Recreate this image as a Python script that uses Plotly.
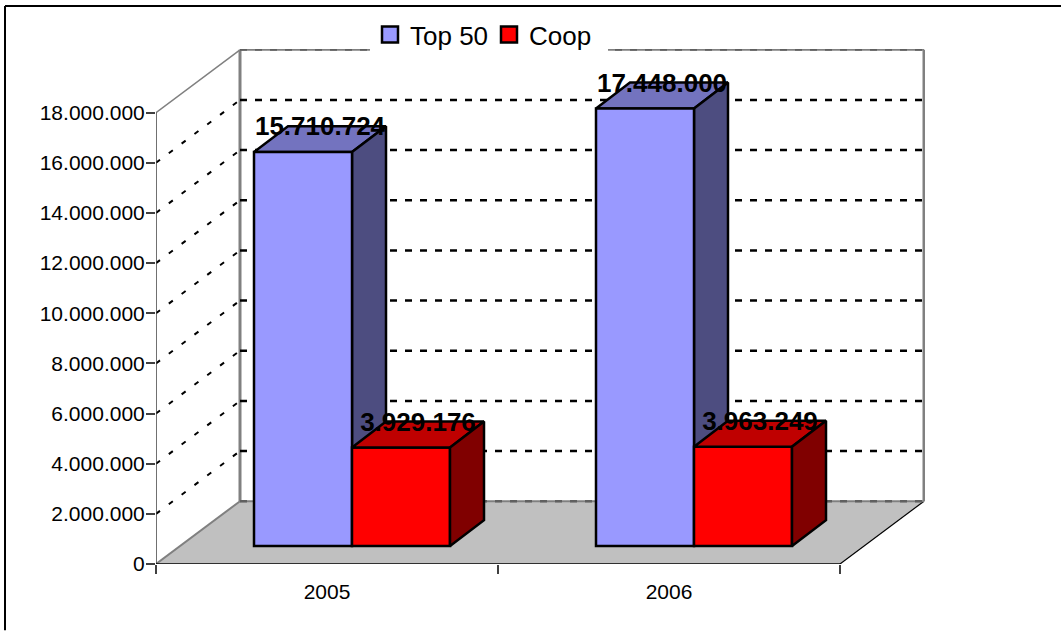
import plotly.graph_objects as go

# ---- data ----
categories = ["2005", "2006"]
top50 = [15710724, 17448000]
coop = [3929176, 3963249]
y_ticks = [0, 2000000, 4000000, 6000000, 8000000, 10000000, 12000000, 14000000, 16000000, 18000000]

# ---- geometry of the oblique projection (axis units) ----
PX_L, PX_R, PX_T, PX_B = 156, 925, 48, 564.5
W, H = 1061, 631
CAT_PX = 342.0
VAL_PX = 25.15 / 1e6
X_MAX = (PX_R - PX_L) / CAT_PX
Y_MAX = (PX_B - PX_T) / VAL_PX
WALL_DX, WALL_DY = 84 / CAT_PX, 63 / VAL_PX
BAR_SX, BAR_SY = 25 / CAT_PX, 18 / VAL_PX
BAR_DX, BAR_DY = 34 / CAT_PX, 26 / VAL_PX
BAR_W = 98 / CAT_PX
LABEL_DROP = 2.5 / VAL_PX

BLUE, BLUE_TOP, BLUE_SIDE = "#9999FF", "#7373BF", "#4D4D80"
RED, RED_TOP, RED_SIDE = "#FF0000", "#BF0000", "#800000"
GREY = "#808080"
FONT = "Liberation Sans, Arial, sans-serif"

fig = go.Figure()


def poly(xs, ys, fill, line=None, width=0, axes="xy"):
    fig.add_trace(go.Scatter(
        x=xs, y=ys, mode="lines", fill="toself", fillcolor=fill,
        line=dict(color=line or fill, width=width), showlegend=False, hoverinfo="skip",
        cliponaxis=False, xaxis="x" if axes == "xy" else "x2", yaxis="y" if axes == "xy" else "y2"))


def line(xs, ys, color, width, dash="solid", axes="xy"):
    fig.add_trace(go.Scatter(
        x=xs, y=ys, mode="lines", line=dict(color=color, width=width, dash=dash),
        showlegend=False, hoverinfo="skip", cliponaxis=False,
        xaxis="x" if axes == "xy" else "x2", yaxis="y" if axes == "xy" else "y2"))


n = len(categories)
top_tick = y_ticks[-1]

# floor
poly([0, n, n + WALL_DX, WALL_DX, 0], [0, 0, WALL_DY, WALL_DY, 0], "#C0C0C0")
line([n, n + WALL_DX], [0, WALL_DY], "#000000", 1.2)
line([0, WALL_DX], [0, WALL_DY], GREY, 2)

# walls
line([WALL_DX, WALL_DX], [WALL_DY, top_tick + WALL_DY], GREY, 3)
line([n + WALL_DX, n + WALL_DX], [WALL_DY, top_tick + WALL_DY], GREY, 3)
line([WALL_DX, n + WALL_DX], [top_tick + WALL_DY] * 2, GREY, 2)
line([WALL_DX, n + WALL_DX], [WALL_DY] * 2, GREY, 2)
line([0, WALL_DX], [top_tick, top_tick + WALL_DY], GREY, 1.5)

# grid lines
for v in y_ticks[:-1]:
    line([WALL_DX, n + WALL_DX], [v + WALL_DY] * 2, "#000000" if v else "#606060", 2.5, "7px,8px")
    if v:
        line([0, WALL_DX], [v, v + WALL_DY], "#000000", 2, "5px,11px")
line([WALL_DX, n + WALL_DX], [top_tick + WALL_DY] * 2, "#606060", 2, "7px,8px")

# value axis and category axis lines
line([0, 0], [0, top_tick], "#404040", 1.5)
line([0, n], [0, 0], "#000000", 1.5)


def box_faces(left, value, top_col, side_col, axes):
    right = left + BAR_W
    t = BAR_SY + value
    b = BAR_SY
    poly([left, right, right + BAR_DX, left + BAR_DX, left],
         [t, t, t + BAR_DY, t + BAR_DY, t], top_col, "#000000", 2.5, axes)
    poly([right, right + BAR_DX, right + BAR_DX, right, right],
         [b, b + BAR_DY, t + BAR_DY, t, b], side_col, "#000000", 2.5, axes)


xa = [i + 0.5 + BAR_SX - BAR_W / 2 for i in range(n)]
xb = [i + 0.5 + BAR_SX + BAR_W / 2 for i in range(n)]

# blue box faces sit under the front bars
for i in range(n):
    box_faces(xa[i] - BAR_W / 2, top50[i], BLUE_TOP, BLUE_SIDE, "xy")

# front faces: real bars on an overlaying copy of the axes
fig.add_trace(go.Bar(x=xa, y=top50, base=BAR_SY, width=BAR_W, name="Top 50", showlegend=False,
                     marker=dict(color=BLUE, line=dict(color="#000000", width=2.5)),
                     hoverinfo="skip", xaxis="x2", yaxis="y2"))
fig.add_trace(go.Bar(x=xb, y=coop, base=BAR_SY, width=BAR_W, name="Coop", showlegend=False,
                     marker=dict(color=RED, line=dict(color="#000000", width=2.5)),
                     hoverinfo="skip", xaxis="x2", yaxis="y2"))

for i in range(n):
    box_faces(xb[i] - BAR_W / 2, coop[i], RED_TOP, RED_SIDE, "x2")


def dotted(v):
    return f"{v:,}".replace(",", ".")


# value labels
for xs, vals in ((xa, top50), (xb, coop)):
    fig.add_trace(go.Scatter(
        x=[x + BAR_DX / 2 for x in xs], y=[v + BAR_SY + BAR_DY - LABEL_DROP for v in vals],
        mode="text", text=[dotted(v) for v in vals], textposition="middle center",
        textfont=dict(family=FONT, size=26, color="#000000", weight="bold"),
        showlegend=False, hoverinfo="skip", cliponaxis=False, xaxis="x2", yaxis="y2"))

# legend swatches
for name, col in (("Top 50", BLUE), ("Coop", RED)):
    fig.add_trace(go.Scatter(
        x=[None], y=[None], mode="markers", name=name,
        marker=dict(symbol="square", size=16, color=col, line=dict(color="#000000", width=2.5)),
        xaxis="x2", yaxis="y2"))

plot_w, plot_h = PX_R - PX_L, PX_B - PX_T
axis_common = dict(showgrid=False, zeroline=False)
fig.update_layout(
    width=W, height=H,
    margin=dict(l=PX_L, r=W - PX_R, t=PX_T, b=H - PX_B, pad=0),
    paper_bgcolor="#FFFFFF", plot_bgcolor="rgba(0,0,0,0)",
    separators=",.", barmode="overlay", showlegend=True,
    font=dict(family=FONT, color="#000000"),
    xaxis=dict(range=[0, X_MAX], tickmode="array", tickvals=[i + 0.5 for i in range(n)], ticktext=categories,
               ticks="", ticklabelstandoff=13, tickfont=dict(size=21), showline=False,
               minor=dict(tickmode="array", tickvals=list(range(n + 1)), ticks="outside", ticklen=9,
                          tickcolor="#404040", tickwidth=1.5, showgrid=False),
               **axis_common),
    yaxis=dict(range=[0, Y_MAX], tickmode="array", tickvals=y_ticks, tickformat=",d",
               ticks="outside", ticklen=9, tickcolor="#404040", tickwidth=1.5, tickfont=dict(size=21),
               ticklabelstandoff=-3, showline=False, **axis_common),
    xaxis2=dict(range=[0, X_MAX], overlaying="x", visible=False, **axis_common),
    yaxis2=dict(range=[0, Y_MAX], overlaying="y", visible=False, **axis_common),
    legend=dict(orientation="h", x=(370 - PX_L) / plot_w, xanchor="left",
                y=(PX_B - 11) / plot_h, yanchor="top", entrywidth=74,
                bgcolor="#FFFFFF", font=dict(size=26), borderwidth=0, itemclick=False, itemdoubleclick=False),
    shapes=[
        dict(type="line", xref="paper", yref="paper", x0=(5 - PX_L) / plot_w, x1=(W - PX_L) / plot_w,
             y0=(PX_B - 5) / plot_h, y1=(PX_B - 5) / plot_h, line=dict(color="#000000", width=2)),
        dict(type="line", xref="paper", yref="paper", x0=(5 - PX_L) / plot_w, x1=(5 - PX_L) / plot_w,
             y0=(PX_B - 5) / plot_h, y1=(PX_B - H) / plot_h, line=dict(color="#000000", width=2)),
    ],
)

fig.write_html("out.html", config=dict(displayModeBar=False),
               post_script="document.body.style.margin='0';")
